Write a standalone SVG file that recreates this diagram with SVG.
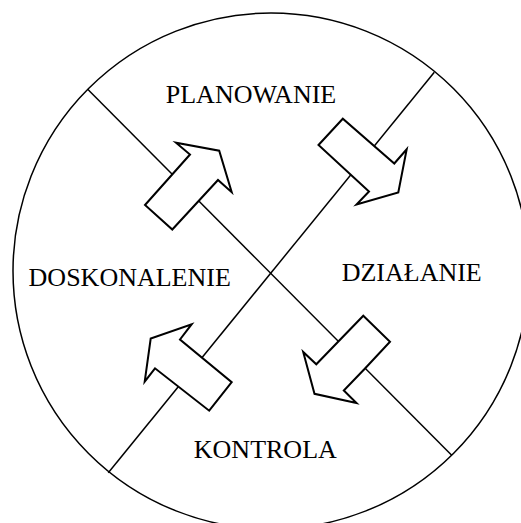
<svg xmlns="http://www.w3.org/2000/svg" width="521" height="523" viewBox="0 0 521 523">
<style>
.ln{fill:none;stroke:#000;stroke-width:1.5}
.ar{fill:#fff;stroke:#000;stroke-width:2;stroke-linejoin:miter}
.lb{font-family:"Liberation Serif","Times New Roman",serif;font-size:26px;fill:#000;text-anchor:middle}
</style>
<rect width="521" height="523" fill="#fff"/>
<g id="circle"><circle class="ln" cx="271" cy="271" r="258"/></g>
<g id="connectors">
<line class="ln" x1="87.7" y1="89.3" x2="451.7" y2="455.3"/>
<line class="ln" x1="434.3" y1="72.3" x2="108.3" y2="472.7"/>
<polygon class="ar" points="145,205 190,154.5 176,142.7 219.2,150.7 231.7,192.2 218,180 172.3,229.5"/>
<polygon class="ar" points="318.5,145 342.8,118.7 394.3,163.5 406.7,149.3 398.3,192.5 356.5,204.5 369,191.5"/>
<polygon class="ar" points="363.3,315.7 390,341.7 365,368.5 343.8,390.5 356.5,403 314.5,393.8 303.2,352 316.3,364.3"/>
<polygon class="ar" points="231.7,382.2 209.2,410.7 155,368.3 144.7,381.7 150.7,338.6 191.7,324.2 180,339.5"/>
</g>
<g id="planowanie"><text class="lb" x="251" y="103">PLANOWANIE</text></g>
<g id="dzialanie"><text class="lb" x="411.7" y="280.5">DZIAŁANIE</text></g>
<g id="kontrola"><text class="lb" x="265.3" y="458.3">KONTROLA</text></g>
<g id="doskonalenie"><text class="lb" x="129.7" y="285.7">DOSKONALENIE</text></g>
</svg>
